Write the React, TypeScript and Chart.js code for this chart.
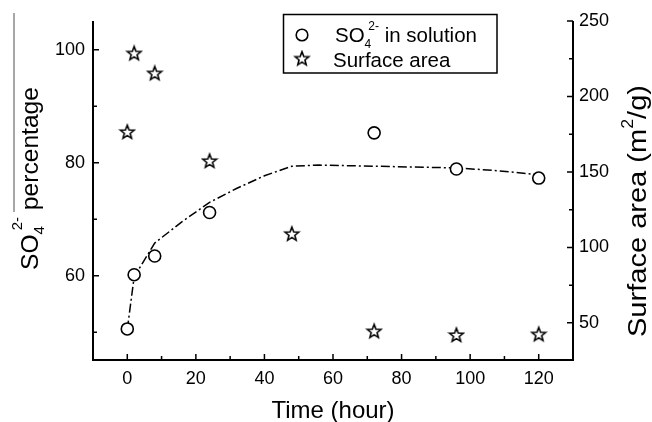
import React, { useEffect, useRef } from "react";
import { Chart, registerables } from "chart.js";

Chart.register(...registerables);

// ---- data ----
const timeSO4: number[] = [0, 2, 8, 24, 72, 96, 120];
const so4Percent: number[] = [50.6, 60.2, 63.5, 71.2, 85.3, 78.9, 77.3];

const timeArea: number[] = [0, 2, 8, 24, 48, 72, 96, 120];
const surfaceArea: number[] = [176.5, 228.6, 215.4, 157.3, 109, 44.5, 42, 42.5];

const fitTime: number[] = [0, 2, 8, 16, 24, 32, 40, 48, 56, 72, 96, 108, 120];
const fitPercent: number[] = [50.5, 59.8, 65.8, 69.6, 73.0, 75.5, 77.7, 79.4, 79.6, 79.4, 79.1, 78.6, 77.9];

const xTicks: number[] = [0, 20, 40, 60, 80, 100, 120];
const xMinor: number[] = [10, 30, 50, 70, 90, 110];
const yTicks: number[] = [60, 80, 100];
const yMinor: number[] = [50, 70, 90];
const y2Ticks: number[] = [50, 100, 150, 200, 250];
const y2Minor: number[] = [75, 125, 175, 225];

const FONT = "'Liberation Sans', Arial, Helvetica, sans-serif";

function makeStar(): HTMLCanvasElement {
  const c = document.createElement("canvas");
  c.width = 18;
  c.height = 18;
  const ctx = c.getContext("2d")!;
  const cx = 9, cy = 9.5, ro = 7.2, ri = 3.1;
  ctx.beginPath();
  for (let i = 0; i < 10; i++) {
    const r = i % 2 === 0 ? ro : ri;
    const a = -Math.PI / 2 + (i * Math.PI) / 5;
    const px = cx + r * Math.cos(a);
    const py = cy + r * Math.sin(a);
    if (i === 0) ctx.moveTo(px, py);
    else ctx.lineTo(px, py);
  }
  ctx.closePath();
  ctx.fillStyle = "#fff";
  ctx.fill();
  ctx.lineWidth = 1.6;
  ctx.strokeStyle = "#000";
  ctx.lineJoin = "miter";
  ctx.stroke();
  return c;
}

type Seg = { t: string; size: number; dy: number; dx?: number };

function drawRich(ctx: CanvasRenderingContext2D, segs: Seg[], x: number, y: number) {
  let cx = x;
  for (const s of segs) {
    ctx.font = `${s.size}px ${FONT}`;
    cx += s.dx || 0;
    ctx.fillText(s.t, cx, y + s.dy);
    cx += ctx.measureText(s.t).width;
  }
}

function richWidth(ctx: CanvasRenderingContext2D, segs: Seg[]) {
  let w = 0;
  for (const s of segs) {
    ctx.font = `${s.size}px ${FONT}`;
    w += (s.dx || 0) + ctx.measureText(s.t).width;
  }
  return w;
}

const decorPlugin = {
  id: "decor",
  afterDraw(chart: any) {
    const ctx: CanvasRenderingContext2D = chart.ctx;
    const { left, right, top, bottom } = chart.chartArea;
    const sx = chart.scales.x;
    const sy = chart.scales.y;
    const sy2 = chart.scales.y2;
    ctx.save();
    ctx.strokeStyle = "#000";
    ctx.fillStyle = "#000";
    // axis lines
    ctx.lineWidth = 2;
    ctx.beginPath();
    ctx.moveTo(left, top);
    ctx.lineTo(left, bottom);
    ctx.lineTo(right, bottom);
    ctx.lineTo(right, top);
    ctx.stroke();
    // ticks (inward)
    ctx.lineWidth = 1.5;
    ctx.beginPath();
    const tick = (x1: number, y1: number, x2: number, y2: number) => {
      ctx.moveTo(x1, y1);
      ctx.lineTo(x2, y2);
    };
    xTicks.forEach((v) => { const p = sx.getPixelForValue(v); tick(p, bottom, p, bottom - 6); });
    xMinor.forEach((v) => { const p = sx.getPixelForValue(v); tick(p, bottom, p, bottom - 4); });
    yTicks.forEach((v) => { const p = sy.getPixelForValue(v); tick(left, p, left + 6, p); });
    yMinor.forEach((v) => { const p = sy.getPixelForValue(v); tick(left, p, left + 4, p); });
    y2Ticks.forEach((v) => { const p = sy2.getPixelForValue(v); tick(right, p, right - 6, p); });
    y2Minor.forEach((v) => { const p = sy2.getPixelForValue(v); tick(right, p, right - 4, p); });
    ctx.stroke();

    // x title
    ctx.textBaseline = "alphabetic";
    ctx.textAlign = "left";
    ctx.font = `24px ${FONT}`;
    const xt = "Time (hour)";
    const xw = ctx.measureText(xt).width;
    ctx.fillText(xt, (left + right) / 2 - xw / 2, 418);

    // left title (rotated)
    const leftSegs: Seg[] = [
      { t: "SO", size: 23, dy: 0 },
      { t: "4", size: 14, dy: 6 },
      { t: "2-", size: 14, dy: -16, dx: -4 },
      { t: " percentage", size: 23, dy: 0 },
    ];
    ctx.save();
    ctx.translate(38, 270);
    ctx.rotate(-Math.PI / 2);
    const lw = richWidth(ctx, leftSegs);
    ctx.scale(183 / lw, 1);
    drawRich(ctx, leftSegs, 0, 0);
    ctx.restore();
    // the thin grey line left of the title
    ctx.strokeStyle = "#8a8a8a";
    ctx.lineWidth = 1.5;
    ctx.beginPath();
    ctx.moveTo(14, 13);
    ctx.lineTo(14, 212);
    ctx.stroke();

    // right title (rotated)
    const rightSegs: Seg[] = [
      { t: "Surface area (m", size: 26, dy: 0 },
      { t: "2", size: 16, dy: -13 },
      { t: "/g)", size: 26, dy: 0 },
    ];
    ctx.save();
    ctx.translate(646, 337);
    ctx.rotate(-Math.PI / 2);
    const rw = richWidth(ctx, rightSegs);
    ctx.scale(252 / rw, 1);
    drawRich(ctx, rightSegs, 0, 0);
    ctx.restore();

    // legend
    ctx.strokeStyle = "#000";
    ctx.lineWidth = 1.5;
    ctx.fillStyle = "#fff";
    ctx.fillRect(283.5, 14.5, 213.5, 58.5);
    ctx.strokeRect(283.5, 14.5, 213.5, 58.5);
    ctx.beginPath();
    ctx.arc(302, 35, 5.8, 0, Math.PI * 2);
    ctx.lineWidth = 1.6;
    ctx.stroke();
    ctx.drawImage(starImg, 302 - 9, 59 - 9.5);
    ctx.fillStyle = "#000";
    drawRich(ctx, [
      { t: "SO", size: 20.5, dy: 0 },
      { t: "4", size: 12, dy: 6 },
      { t: "2-", size: 12, dy: -12, dx: -3 },
      { t: " in solution", size: 20.5, dy: 0 },
    ], 335, 42);
    drawRich(ctx, [{ t: "Surface area", size: 20.5, dy: 0 }], 333, 66.5);
    ctx.restore();
  },
};

let starImg: HTMLCanvasElement;

export default function App() {
  const ref = useRef<HTMLCanvasElement | null>(null);
  useEffect(() => {
    if (!ref.current) return;
    starImg = makeStar();
    const tickFont = { family: FONT, size: 18 };
    const chart = new Chart(ref.current, {
      type: "scatter",
      data: {
        datasets: [
          {
            label: "fit",
            data: fitTime.map((t, i) => ({ x: t, y: fitPercent[i] })),
            yAxisID: "y",
            showLine: true,
            borderColor: "#000",
            borderWidth: 1.5,
            borderDash: [9, 3, 2, 3],
            pointRadius: 0,
            tension: 0,
            order: 3,
          },
          {
            label: "Surface area",
            data: timeArea.map((t, i) => ({ x: t, y: surfaceArea[i] })),
            yAxisID: "y2",
            pointStyle: starImg,
            pointRadius: 8,
            order: 2,
          },
          {
            label: "SO4 2- in solution",
            data: timeSO4.map((t, i) => ({ x: t, y: so4Percent[i] })),
            yAxisID: "y",
            pointStyle: "circle",
            pointRadius: 6,
            pointBorderWidth: 1.6,
            pointBackgroundColor: "#fff",
            pointBorderColor: "#000",
            order: 1,
          },
        ],
      },
      options: {
        responsive: false,
        animation: false,
        devicePixelRatio: 1,
        layout: { padding: { top: 21, left: 0, right: 0, bottom: 0 } },
        plugins: { legend: { display: false }, tooltip: { enabled: false }, title: { display: false } },
        scales: {
          x: {
            type: "linear",
            position: "bottom",
            min: -10,
            max: 130,
            grid: { display: false, drawTicks: false },
            border: { display: false },
            ticks: { font: tickFont, color: "#000", padding: 8, callback: (v: any) => String(v) },
            afterBuildTicks: (s: any) => { s.ticks = xTicks.map((v) => ({ value: v })); },
            afterFit: (s: any) => { s.height = 62; },
          },
          y: {
            type: "linear",
            position: "left",
            min: 45.1,
            max: 105.1,
            grid: { display: false, drawTicks: false },
            border: { display: false },
            ticks: { font: tickFont, color: "#000", padding: 8, callback: (v: any) => String(v) },
            afterBuildTicks: (s: any) => { s.ticks = yTicks.map((v) => ({ value: v })); },
            afterFit: (s: any) => { s.width = 93; },
          },
          y2: {
            type: "linear",
            position: "right",
            min: 25.4,
            max: 250,
            grid: { display: false, drawTicks: false },
            border: { display: false },
            ticks: { font: tickFont, color: "#000", padding: 6, callback: (v: any) => String(v) },
            afterBuildTicks: (s: any) => { s.ticks = y2Ticks.map((v) => ({ value: v })); },
            afterFit: (s: any) => { s.width = 79; },
          },
        },
      } as any,
      plugins: [decorPlugin],
    });
    return () => chart.destroy();
  }, []);
  return (
    <div style={{ position: "absolute", left: 0, top: 0, width: 652, height: 422, background: "#fff" }}>
      <canvas ref={ref} width={652} height={422} style={{ display: "block" }} />
    </div>
  );
}
